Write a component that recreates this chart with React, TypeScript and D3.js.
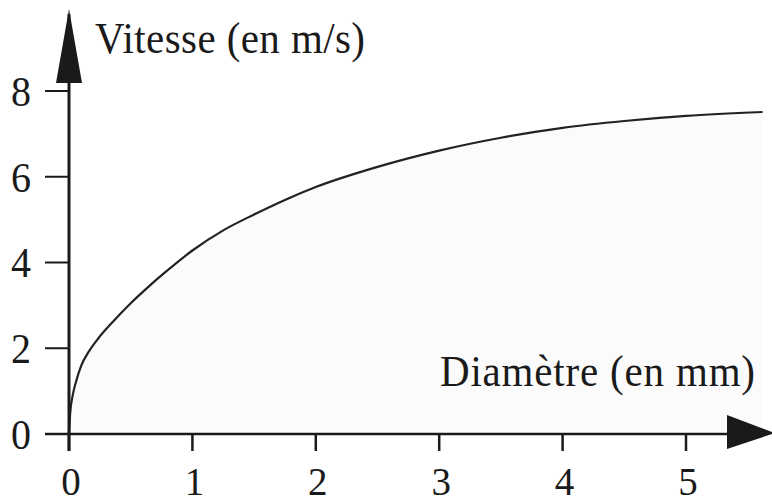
import React from "react";
import * as d3 from "d3";

// Diameter of the drop (mm) and its terminal speed (m/s)
const diametres = [0, 0.01, 0.03, 0.06, 0.1, 0.16, 0.24, 0.35, 0.5, 0.65, 0.8, 1.0, 1.25, 1.5, 1.75, 2.0, 2.5, 3.0, 3.5, 4.0, 4.5, 5.0, 5.62];
const vitesses = [0, 0.5, 0.9, 1.25, 1.6, 1.92, 2.24, 2.6, 3.05, 3.45, 3.82, 4.28, 4.75, 5.12, 5.46, 5.76, 6.23, 6.61, 6.91, 7.14, 7.3, 7.42, 7.51];

const xTicks = [0, 1, 2, 3, 4, 5];
const yTicks = [0, 2, 4, 6, 8];

const xTitle = "Diamètre (en mm)";
const yTitle = "Vitesse (en m/s)";

const W = 772;
const H = 504;
const FONT = "'Liberation Serif', 'Times New Roman', serif";
const INK = "#1a1a1a";

export default function App() {
  const x = d3.scaleLinear().domain([0, 5]).range([69, 686]);
  const y = d3.scaleLinear().domain([0, 8]).range([434, 91]);

  const pts: [number, number][] = diametres.map((d, i) => [d, vitesses[i]]);

  const line = d3
    .line<[number, number]>()
    .x((p) => x(p[0]))
    .y((p) => y(p[1]))
    .curve(d3.curveMonotoneX);

  const area = d3
    .area<[number, number]>()
    .x((p) => x(p[0]))
    .y0(y(0))
    .y1((p) => y(p[1]))
    .curve(d3.curveMonotoneX);

  const x0 = x(0);
  const y0 = y(0);

  const stretch = (by: number, k: number) =>
    `translate(0 ${by}) scale(1 ${k}) translate(0 ${-by})`;

  return (
    <svg
      width={W}
      height={H}
      viewBox={`0 0 ${W} ${H}`}
      style={{ position: "absolute", left: 0, top: 0, background: "#ffffff" }}
    >
      {/* light shading under the curve */}
      <path d={area(pts) || ""} fill="#fbfbfb" stroke="none" />

      {/* speed curve */}
      <path d={line(pts) || ""} fill="none" stroke="#222" strokeWidth={2.2} />

      {/* x axis */}
      <line x1={45} y1={y0} x2={730} y2={y0} stroke={INK} strokeWidth={2.5} />
      <polygon points={`727,415 727,449 775,433`} fill={INK} />
      {xTicks.map((t) => (
        <g key={`xt${t}`}>
          <line x1={x(t)} y1={y0} x2={x(t)} y2={451} stroke={INK} strokeWidth={2.5} />
          <text
            x={x(t) + 2}
            y={495}
            textAnchor="middle"
            fontFamily={FONT}
            fontSize={39}
            fill={INK}
            transform={stretch(495, 1.05)}
          >
            {t}
          </text>
        </g>
      ))}

      {/* y axis */}
      <line x1={x0} y1={y0 + 17} x2={x0} y2={14} stroke={INK} strokeWidth={3} />
      <polygon points={`${x0},9 56,83 82,83`} fill={INK} />
      {yTicks.map((t) => (
        <g key={`yt${t}`}>
          <line x1={45} y1={y(t)} x2={x0} y2={y(t)} stroke={INK} strokeWidth={2} />
          <text
            x={21}
            y={y(t) + 15}
            textAnchor="middle"
            fontFamily={FONT}
            fontSize={40}
            fill={INK}
            transform={stretch(y(t) + 15, 1.08)}
          >
            {t}
          </text>
        </g>
      ))}

      {/* axis titles */}
      <text
        x={95}
        y={53}
        fontFamily={FONT}
        fontSize={41}
        fill={INK}
        textLength={270}
        lengthAdjust="spacing"
        transform={stretch(53, 1.1)}
      >
        {yTitle}
      </text>
      <text
        x={440}
        y={386}
        fontFamily={FONT}
        fontSize={41}
        fill={INK}
        textLength={315}
        lengthAdjust="spacing"
        transform={stretch(386, 1.1)}
      >
        {xTitle}
      </text>
    </svg>
  );
}
